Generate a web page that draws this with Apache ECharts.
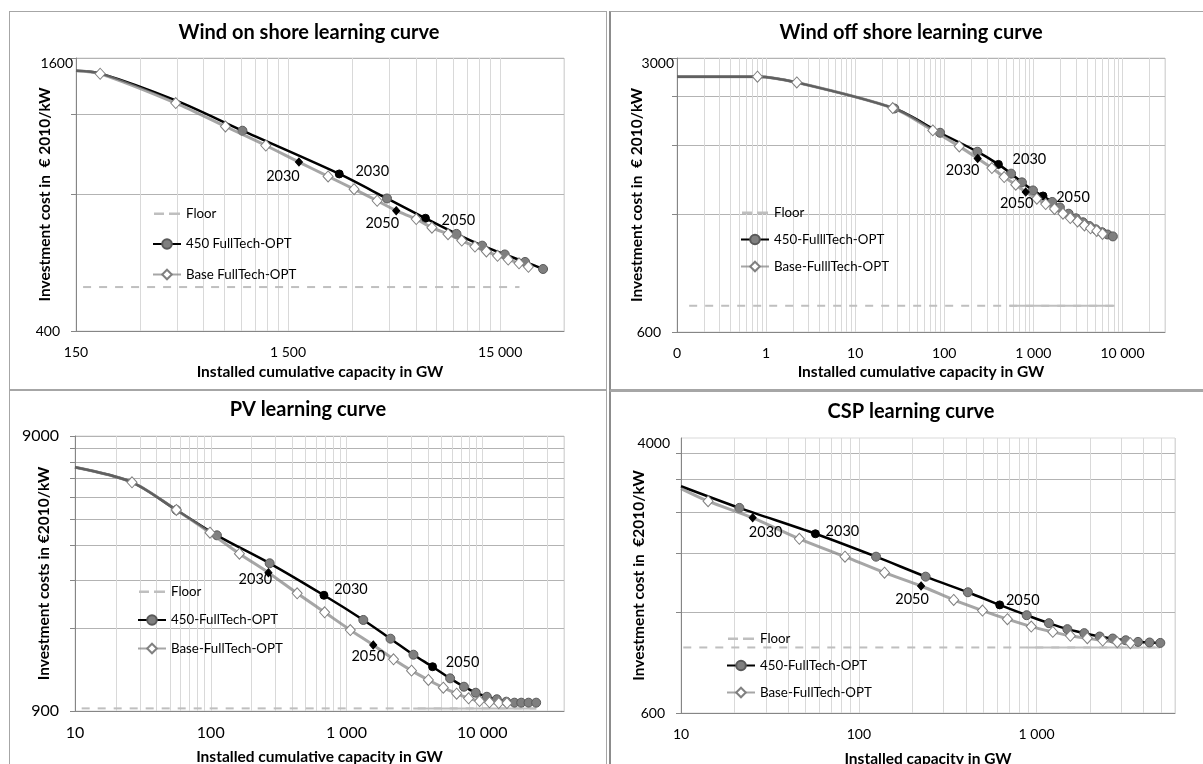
<!DOCTYPE html>
<html>
<head>
<meta charset="utf-8">
<title>Learning curves</title>
<script src="https://cdn.jsdelivr.net/npm/echarts@6.0.0/dist/echarts.min.js"></script>
<style>
  html, body { margin:0; padding:0; background:#fff; }
  body { width:1203px; height:764px; position:relative; overflow:hidden; }
  .chart { position:absolute; }
  .bd { position:absolute; box-sizing:border-box; pointer-events:none; }
</style>
</head>
<body>
<div id="c1" class="chart" style="left:9px;top:11px;width:597px;height:378px;"></div>
<div id="c2" class="chart" style="left:609px;top:11px;width:594px;height:378px;"></div>
<div id="c3" class="chart" style="left:9px;top:390px;width:597px;height:374px;"></div>
<div id="c4" class="chart" style="left:609px;top:391px;width:594px;height:373px;"></div>
<div class="bd" style="left:9px;top:11px;width:598px;height:379px;border:1px solid #a6a6a6;"></div>
<div class="bd" style="left:609px;top:11px;width:600px;height:380px;border:1px solid #a6a6a6;border-left:2px solid #8c8c8c;border-bottom:2px solid #a6a6a6;"></div>
<div class="bd" style="left:9px;top:390px;width:598px;height:400px;border:1px solid #a6a6a6;"></div>
<div class="bd" style="left:609px;top:391px;width:600px;height:400px;border:1px solid #a6a6a6;border-left:2px solid #8c8c8c;"></div>
<script>
// ---------------- DATA ----------------
// Wind on shore  [installed GW, EUR2010/kW]
const onshoreFloor = [[162, 500], [18500, 500]];
const onshore450 = [[150,1500],[195,1480],[443,1290],[914,1106],[2614,888],[4390,784],[6665,709],[9335,655],[12340,617],[15770,590],[19660,568],[23900,548]];
const onshore450Hidden = 3;
const onshore450Marked = [[4,'2030'],[6,'2050']];
const onshoreBase = [[150,1500],[195,1477],[443,1273],[760,1130],[1178,1026],[1688,943],[2316,877],[3071,822],[3946,775],[4853,737],[6030,706],[7150,676],[8515,654],[9887,633],[11410,614],[12920,599],[14580,586],[16370,575],[18410,564],[20390,554]];
const onshoreBaseHidden = 1;
const onshoreBaseMarked = [[5,'2030'],[9,'2050']];
const onshoreXLabels = [150, 1500, 15000];
const onshoreYLabels = [400, 1600];

// Wind off shore
const offshoreFloor = [[0.137, 700], [8130, 700]];
const offshoreFloorSolid = [[542, 700], [8130, 700]];
const offshore450 = [[0.1,2688],[0.8,2688],[2.21,2598],[27.5,2230],[89.7,1934],[235,1730],[405,1606],[562,1521],[743,1445],[990,1378],[1282,1334],[1626,1288],[1983,1247],[2488,1202],[3000,1170],[3600,1143],[4250,1118],[5000,1097],[5900,1078],[6800,1064],[7800,1052]];
const offshore450Hidden = 3;
const offshore450Marked = [[6,'2030'],[10,'2050']];
const offshoreBase = [[0.1,2688],[0.8,2688],[2.21,2598],[26.4,2236],[74.3,1961],[147.3,1785],[237,1663],[342,1572],[470,1491],[634,1425],[820,1365],[1093,1313],[1374,1272],[1726,1236],[2148,1202],[2594,1172],[3131,1149],[3743,1122],[4385,1103],[5143,1086],[5970,1067]];
const offshoreBaseHidden = 1;
const offshoreBaseMarked = [[6,'2030'],[10,'2050']];
const offshoreXLabels = [0.1, 1, 10, 100, 1000, 10000];
const offshoreYLabels = [600, 3000];

// PV
const pvFloor = [[11.2, 920], [25000, 920]];
const pvFloorSolid = [[3100, 920], [25000, 920]];
const pv450 = [[10,6923],[26.3,6107],[55.8,4845],[111,3918],[271.5,3100],[682,2372],[1330,1929],[2108,1649],[3112,1442],[4305,1304],[5797,1183],[7328,1103],[8955,1049],[10810,1014],[12800,993],[15040,973],[17250,965],[19370,965],[21920,965],[24950,965]];
const pv450Hidden = 2;
const pv450Marked = [[5,'2030'],[9,'2050']];
const pvBase = [[10,6923],[26.3,6107],[55.8,4845],[98.7,4006],[162.6,3359],[266,2866],[433,2411],[690,2057],[1067,1773],[1574,1564],[2220,1388],[3013,1262],[4009,1167],[5164,1094],[6476,1040],[7925,1001],[9550,978],[11310,968],[13220,962],[15200,962]];
const pvBaseHidden = 1;
const pvBaseMarked = [[5,'2030'],[9,'2050']];
const pvXLabels = [10, 100, 1000, 10000];
const pvYLabels = [900, 9000];

// CSP
const cspFloor = [[10.3, 943], [4960, 943]];
const cspFloorSolid = [[880, 943], [4960, 943]];
const csp450 = [[10,2868],[21.3,2470],[57,2066],[125,1764],[237.6,1537],[410.5,1380],[620,1265],[879,1178],[1172,1115],[1489,1070],[1853,1041],[2261,1017],[2678,1003],[3170,991],[3716,980],[4315,976],[4961,973]];
const csp450Hidden = 1;
const csp450Marked = [[2,'2030'],[6,'2050']];
const cspBase = [[10,2822],[14.2,2587],[25.3,2306],[46.3,1996],[83.6,1764],[139.5,1580],[223.9,1441],[341.7,1309],[496,1216],[685,1146],[933,1089],[1233,1050],[1549,1022],[1928,1005],[2352,989],[2841,978],[3366,971]];
const cspBaseHidden = 1;
const cspBaseMarked = [[2,'2030'],[6,'2050']];
const cspXLabels = [10, 100, 1000];
const cspYLabels = [600, 4000];

// ---------------- STYLE / BUILD ----------------
const FONT = "Lato, 'Open Sans', 'DejaVu Sans', sans-serif";
const DASH_ICON = 'path://M0,0M28,12M1,5h10v2.5h-10zM16,5h11v2.5h-11z';

function gridVals(min, max) {
  const out = [];
  for (let d = 1; d < 1e12; d *= 10) {
    for (let k = 1; k <= 9; k++) {
      const v = parseFloat((min * k * d).toPrecision(8));
      if (v > max * 1.000001) return out;
      out.push(v);
    }
  }
  return out;
}
function fmtX(v) {
  return String(Math.round(v)).replace(/\B(?=(\d{3})+(?!\d))/g, ' ');
}

function lineSeries(name, pts, hidden, marked, kind, offs) {
  const is450 = kind === '450';
  const markMap = {};
  marked.forEach(m => { markMap[m[0]] = m[1]; });
  const data = pts.map((p, i) => {
    const item = { value: p };
    if (i < hidden) item.symbol = 'none';
    const tag = markMap[i];
    if (tag) {
      item.symbol = is450 ? 'circle' : 'diamond';
      item.symbolSize = is450 ? 8 : [7, 8];
      item.itemStyle = { color: '#000', borderColor: '#000', borderWidth: 1 };
      item.label = {
        show: true, formatter: tag, position: 'inside',
        offset: offs[kind + tag], color: '#000', fontSize: 14.5, fontFamily: FONT
      };
    }
    return item;
  });
  return {
    type: 'line', name: name, data: data, smooth: 0.3,
    showAllSymbol: true, silent: true, clip: true,
    symbol: is450 ? 'circle' : 'diamond',
    symbolSize: is450 ? 9 : [10, 11],
    itemStyle: is450
      ? { color: '#7f7f7f', borderColor: '#595959', borderWidth: 1 }
      : { color: '#ffffff', borderColor: '#808080', borderWidth: 1 },
    lineStyle: is450
      ? { color: '#000000', width: 2.5 }
      : { color: 'rgb(132,132,132)', opacity: 0.725, width: 3 },
    emphasis: { disabled: true },
    z: is450 ? 3 : 4
  };
}

function floorSeries(name, pts, solid) {
  return {
    type: 'line', name: name, data: pts, symbol: 'none', silent: true,
    lineStyle: { color: '#bfbfbf', width: 2, type: solid ? 'solid' : [8, 8] },
    itemStyle: { color: '#bfbfbf' },
    emphasis: { disabled: true }, z: 2
  };
}

function build(id, c) {
  const chart = echarts.init(document.getElementById(id), null, { renderer: 'canvas' });
  const series = [floorSeries('Floor', c.floor, false)];
  if (c.floorSolid) series.push(floorSeries('FloorSolid', c.floorSolid, true));
  series.push(lineSeries(c.names[1], c.s450, c.h450, c.m450, '450', c.offs));
  series.push(lineSeries(c.names[2], c.base, c.hBase, c.mBase, 'base', c.offs));
  const yTicks = gridVals(c.yMin, c.yMax);
  const lf = c.labelFont || 14;
  const option = {
    animation: false,
    backgroundColor: 'transparent',
    grid: { left: c.grid[0], top: c.grid[1], width: c.grid[2], height: c.grid[3],
            outerBoundsMode: 'none', containLabel: false,
            show: true, borderColor: '#d9d9d9', borderWidth: 1, backgroundColor: 'transparent' },
    graphic: [{ type: 'text', x: c.title[1], y: c.title[2], silent: true,
      style: { text: c.title[0], fill: '#000', fontFamily: FONT, fontSize: 20, fontWeight: 'bold',
               align: 'center', verticalAlign: 'middle' } }],
    legend: {
      data: [{ name: 'Floor', icon: DASH_ICON }, c.names[1], c.names[2]],
      orient: 'vertical', left: c.legend[0], top: c.legend[1], itemGap: c.legend[2],
      itemWidth: 28, itemHeight: 12, selectedMode: false, padding: 0,
      textStyle: { fontFamily: FONT, fontSize: 13.3, color: '#000' }
    },
    xAxis: {
      type: 'log', logBase: 10, min: c.xMin, max: c.xMax,
      name: c.xName, nameLocation: 'middle', nameGap: c.xNameGap, nameMoveOverlap: false,
      nameTextStyle: { fontFamily: FONT, fontSize: 15.5, fontWeight: 'bold', color: '#000' },
      axisLine: { show: true, lineStyle: { color: '#868686', width: 1 } },
      axisTick: { show: false, customValues: gridVals(c.xMin, c.xMax) },
      axisLabel: { show: true, customValues: c.xLabels, formatter: fmtX, margin: 14,
                   fontFamily: FONT, fontSize: lf, color: '#000' },
      splitLine: { show: true, lineStyle: { color: '#d9d9d9', width: 1 } },
      minorTick: { show: false }, minorSplitLine: { show: false }
    },
    yAxis: {
      type: 'log', logBase: 10, min: c.yMin, max: c.yMax,
      name: c.yName, nameLocation: 'middle', nameGap: c.yNameGap, nameRotate: 90, nameMoveOverlap: false,
      nameTextStyle: { fontFamily: FONT, fontSize: 15.5, fontWeight: 'bold', color: '#000' },
      axisLine: { show: true, lineStyle: { color: '#868686', width: 1 } },
      axisTick: { show: true, inside: false, length: 5, customValues: yTicks,
                  lineStyle: { color: '#868686', width: 1 } },
      axisLabel: {
        show: true, customValues: c.yLabels, margin: 16,
        fontFamily: FONT, fontSize: lf, color: '#000',
        formatter: v => (Math.abs(v - c.yMax) < 1e-6 && c.topShift ? '{top|' + Math.round(v) + '}' : String(Math.round(v))),
        rich: { top: { fontFamily: FONT, fontSize: lf, color: '#000',
                       padding: [c.topShift ? c.topShift[1] : 0, c.topShift ? -c.topShift[0] : 0, 0, 0] } }
      },
      splitLine: { show: true, lineStyle: { color: '#b3b3b3', width: 1 } },
      minorTick: { show: false }, minorSplitLine: { show: false }
    },
    series: series
  };
  chart.setOption(option);
  return chart;
}

build('c1', {
  title: ['Wind on shore learning curve', 300, 22],
  grid: [67, 47, 488, 273],
  xMin: 150, xMax: 30000, yMin: 400, yMax: 1600,
  xLabels: onshoreXLabels, yLabels: onshoreYLabels, topShift: [13, 10],
  xName: 'Installed cumulative capacity in GW', xNameGap: 33,
  yName: 'Investment cost in  € 2010/kW', yNameGap: 23,
  legend: [143, 196, 17.5],
  names: ['Floor', '450 FullTech-OPT', 'Base FullTech-OPT'],
  floor: onshoreFloor, floorSolid: null,
  s450: onshore450, h450: onshore450Hidden, m450: onshore450Marked,
  base: onshoreBase, hBase: onshoreBaseHidden, mBase: onshoreBaseMarked,
  offs: { '4502030': [33, -3], '4502050': [33, 2], 'base2030': [-16, 14], 'base2050': [-14, 13] }
});

build('c2', {
  title: ['Wind off shore learning curve', 302, 22],
  grid: [68, 47, 488, 274],
  xMin: 0.1, xMax: 30000, yMin: 600, yMax: 3000,
  xLabels: offshoreXLabels, yLabels: offshoreYLabels, topShift: [13, 10],
  xName: 'Installed cumulative capacity in GW', xNameGap: 32,
  yName: 'Investment cost in  € 2010/kW', yNameGap: 32,
  legend: [131, 195, 14],
  names: ['Floor', '450-FulllTech-OPT', 'Base-FulllTech-OPT'],
  floor: offshoreFloor, floorSolid: offshoreFloorSolid,
  s450: offshore450, h450: offshore450Hidden, m450: offshore450Marked,
  base: offshoreBase, hBase: offshoreBaseHidden, mBase: offshoreBaseMarked,
  offs: { '4502030': [31, -5], '4502050': [30, 1], 'base2030': [-15, 12], 'base2050': [-9, 11] }
});

build('c3', {
  title: ['PV learning curve', 299, 20],
  grid: [66, 46, 489, 275],
  xMin: 10, xMax: 40000, yMin: 900, yMax: 9000, labelFont: 16,
  xLabels: pvXLabels, yLabels: pvYLabels, topShift: null,
  xName: 'Installed cumulative capacity in GW', xNameGap: 38,
  yName: 'Investment costs in €2010/kW', yNameGap: 23,
  legend: [128, 195, 15.5],
  names: ['Floor', '450-FullTech-OPT', 'Base-FullTech-OPT'],
  floor: pvFloor, floorSolid: pvFloorSolid,
  s450: pv450, h450: pv450Hidden, m450: pv450Marked,
  base: pvBase, hBase: pvBaseHidden, mBase: pvBaseMarked,
  offs: { '4502030': [27, -6], '4502050': [30, -4], 'base2030': [-13, 7], 'base2050': [-5, 11] }
});

build('c4', {
  title: ['CSP learning curve', 302, 21],
  grid: [72, 47, 494, 275],
  xMin: 10, xMax: 6000, yMin: 600, yMax: 4000,
  xLabels: cspXLabels, yLabels: cspYLabels, topShift: [5, 11],
  xName: 'Installed capacity in GW', xNameGap: 38,
  yName: 'Investment cost in  €2010/kW', yNameGap: 34,
  legend: [117, 241, 14],
  names: ['Floor', '450-FullTech-OPT', 'Base-FullTech-OPT'],
  floor: cspFloor, floorSolid: cspFloorSolid,
  s450: csp450, h450: csp450Hidden, m450: csp450Marked,
  base: cspBase, hBase: cspBaseHidden, mBase: cspBaseMarked,
  offs: { '4502030': [27, -2], '4502050': [23, -5], 'base2030': [13, 14], 'base2050': [-9, 13] }
});
</script>
</body>
</html>
